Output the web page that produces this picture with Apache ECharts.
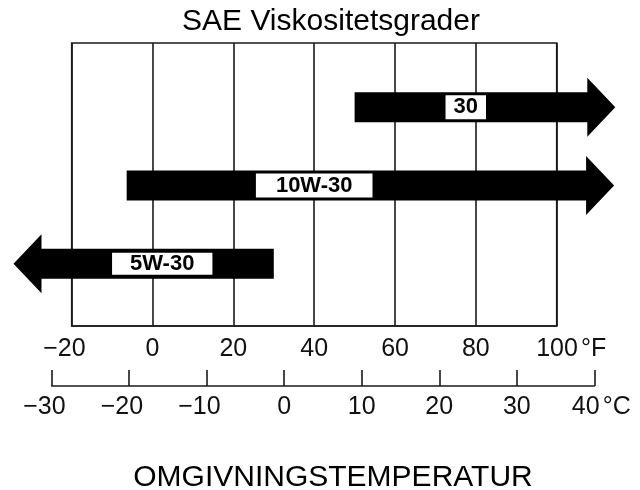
<!DOCTYPE html>
<html><head><meta charset="utf-8">
<script src="https://cdn.jsdelivr.net/npm/echarts@6/dist/echarts.min.js"></script>
<style>html,body{margin:0;padding:0;background:#fff}#c{width:640px;height:490px}</style>
</head><body><div id="c"></div>
<script>
// ---- data ----
const gradeNames = ['30', '10W-30', '5W-30'];
const rangeStartF = [50, -6.4, 30];
const arrowTipF = [114.5, 114.2, -34.4];
const labelCenterF = [77.5, 40, 2.4];
const fahrenheitTicks = [-20, 0, 20, 40, 60, 80, 100];
const celsiusTicks = [-30, -20, -10, 0, 10, 20, 30, 40];
const titleText = 'SAE Viskositetsgrader';
const axisTitleText = 'OMGIVNINGSTEMPERATUR';
const fahrenheitUnit = '°F';
const celsiusUnit = '°C';

// ---- styles ----
const FONT = '"Liberation Sans", Arial, Helvetica, sans-serif';
const SHAFT = 15, HEAD = 29.5, HEAD_LEN = 28;
const labelPad = { '30': [1, 8], '10W-30': [1, 20], '5W-30': [0, 18] };
const LINE = '#1a1a1a';

function fmtTick(v, last, unit, unitPad) {
  const s = String(Math.abs(v));
  if (v < 0) return '{m|\u2212' + s + '}';
  if (v === last) return '{p' + unitPad + '|' + s + '}{u|' + unit + '}';
  return '{n|' + s + '}';
}
const richBase = {
  n: { fontSize: 25, fontFamily: FONT, color: '#111', lineHeight: 25 },
  m: { fontSize: 25, fontFamily: FONT, color: '#111', lineHeight: 25, padding: [0, 14.6, 0, 0] },
  pF: { fontSize: 25, fontFamily: FONT, color: '#111', lineHeight: 25, padding: [0, 0, 0, 29] },
  pC: { fontSize: 25, fontFamily: FONT, color: '#111', lineHeight: 25, padding: [0, 0, 0, 14] },
  u: { fontSize: 25, fontFamily: FONT, color: '#111', lineHeight: 25, padding: [0, 0, 0, 3] }
};

function renderArrow(params, api) {
  const row = api.value(0);
  const s = api.coord([api.value(1), row]);
  const t = api.coord([api.value(2), row]);
  const l = api.coord([api.value(3), row]);
  const y = s[1];
  const dir = t[0] > s[0] ? 1 : -1;
  const b = t[0] - dir * HEAD_LEN;
  const name = gradeNames[params.dataIndex];
  return {
    type: 'group',
    children: [
      { type: 'polygon',
        shape: { points: [[s[0], y - SHAFT], [b, y - SHAFT], [b, y - HEAD], [t[0], y], [b, y + HEAD], [b, y + SHAFT], [s[0], y + SHAFT]] },
        style: { fill: '#000' } },
      { type: 'text',
        style: { text: name, x: l[0], y: y, align: 'center', verticalAlign: 'middle', fill: '#000',
                 font: 'bold 22px ' + FONT, backgroundColor: '#fff', padding: labelPad[name] } }
    ]
  };
}

const chart = echarts.init(document.getElementById('c'), null, { renderer: 'canvas' });
chart.setOption({
  backgroundColor: '#fff',
  animation: false,
  title: [
    { text: titleText, left: 331, top: 7, textAlign: 'center', padding: 0,
      textStyle: { fontSize: 30, fontWeight: 'normal', fontFamily: FONT, color: '#000' } },
    { text: axisTitleText, left: 333, top: 463, textAlign: 'center', padding: 0,
      textStyle: { fontSize: 30, fontWeight: 'normal', fontFamily: FONT, color: '#000' } }
  ],
  grid: [
    { left: 71.7, right: 83.3, top: 43, bottom: 164, show: true, borderColor: LINE, borderWidth: 1.6, backgroundColor: 'transparent' },
    { left: 51.7, right: 45.7, top: 386, height: 0 }
  ],
  xAxis: [
    { type: 'value', gridIndex: 0, min: fahrenheitTicks[0], max: fahrenheitTicks[fahrenheitTicks.length - 1], interval: 20,
      axisLine: { show: true, onZero: false, lineStyle: { color: LINE, width: 1.6 } },
      axisTick: { show: false },
      splitLine: { show: true, lineStyle: { color: LINE, width: 1.6 } },
      axisLabel: { margin: 11, formatter: v => fmtTick(v, fahrenheitTicks[fahrenheitTicks.length - 1], fahrenheitUnit, 'F'), rich: richBase } },
    { type: 'value', gridIndex: 1, min: celsiusTicks[0], max: celsiusTicks[celsiusTicks.length - 1], interval: 10,
      axisLine: { show: true, onZero: false, lineStyle: { color: LINE, width: 1.6 } },
      axisTick: { show: true, inside: true, length: 16, lineStyle: { color: LINE, width: 1.6 } },
      splitLine: { show: false },
      axisLabel: { margin: 9, formatter: v => fmtTick(v, celsiusTicks[celsiusTicks.length - 1], celsiusUnit, 'C'), rich: richBase } }
  ],
  yAxis: [
    { type: 'value', gridIndex: 0, inverse: true, min: -0.822, max: 2.795, show: false, splitLine: { show: false } },
    { type: 'value', gridIndex: 1, min: 0, max: 1, show: false, splitLine: { show: false } }
  ],
  series: [{
    type: 'custom',
    xAxisIndex: 0, yAxisIndex: 0,
    clip: false,
    renderItem: renderArrow,
    encode: { x: [1, 2, 3], y: 0 },
    data: gradeNames.map((n, i) => [i, rangeStartF[i], arrowTipF[i], labelCenterF[i]])
  }]
});
</script></body></html>
